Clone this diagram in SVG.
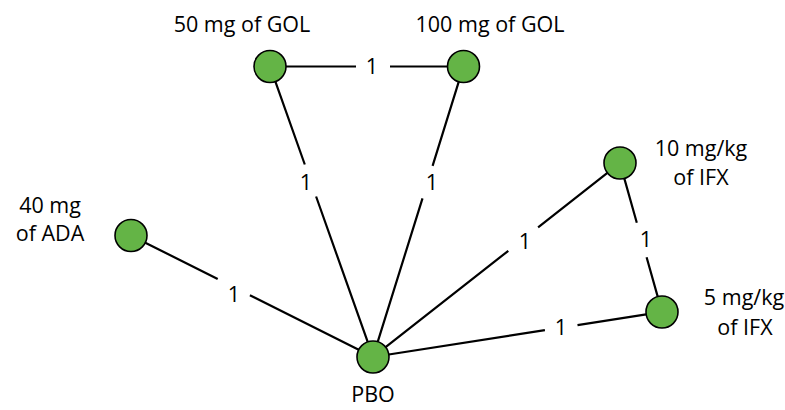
<svg xmlns="http://www.w3.org/2000/svg" width="785" height="410" viewBox="0 0 785 410">
<style>
.e{stroke:#000;stroke-width:2.2;fill:none;stroke-linecap:butt}
.n{fill:#64b446;stroke:#000;stroke-width:1.6}
text{font-family:"Open Sans","Noto Sans","DejaVu Sans",sans-serif;font-size:21.5px;fill:#000;text-anchor:middle}
</style>
<rect width="785" height="410" fill="#fff"/>
<g id="connectors">
<path class="e" d="M286,66.5H356M390,66.5H447.5"/>
<path class="e" d="M275.4,81.6L304.8,164.5M316.1,196.5L367.7,341.9"/>
<path class="e" d="M458.7,81.8L432.6,165.8M422.5,198.3L377.8,341.7"/>
<path class="e" d="M145.3,242.7L217.7,279M249.9,295.2L358.7,349.8"/>
<path class="e" d="M385.6,347.1L508.3,250.8M538.1,227.3L607.4,172.9"/>
<path class="e" d="M624.3,178.4L636.8,222.7M646.6,257.3L657.7,296.6"/>
<path class="e" d="M388.8,354.5L544.9,330.2M577.5,325.1L646.2,314.4"/>
<text x="372" y="74">1</text>
<text x="306" y="190">1</text>
<text x="432" y="190">1</text>
<text x="234" y="302">1</text>
<text x="525" y="249">1</text>
<text x="646" y="247">1</text>
<text x="561" y="335">1</text>
</g>
<g id="gol50"><circle class="n" cx="270" cy="66.5" r="16"/><text x="242" y="32">50 mg of GOL</text></g>
<g id="gol100"><circle class="n" cx="463.5" cy="66.5" r="16"/><text x="490" y="32">100 mg of GOL</text></g>
<g id="ada40"><circle class="n" cx="131" cy="235.5" r="16"/><text x="50" y="213">40 mg</text><text x="50" y="241">of ADA</text></g>
<g id="ifx10"><circle class="n" cx="620" cy="163" r="16"/><text x="701" y="156">10 mg/kg</text><text x="701" y="185">of IFX</text></g>
<g id="ifx5"><circle class="n" cx="662" cy="312" r="16"/><text x="744" y="305">5 mg/kg</text><text x="745" y="335">of IFX</text></g>
<g id="pbo"><circle class="n" cx="373" cy="357" r="16"/><text x="373" y="402">PBO</text></g>
</svg>
